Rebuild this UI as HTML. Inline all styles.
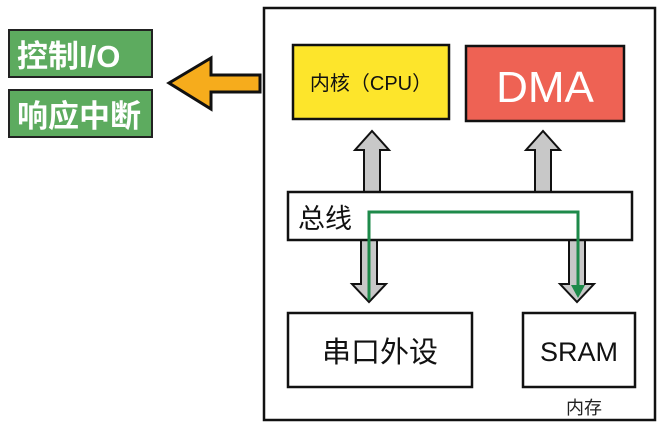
<!DOCTYPE html>
<html><head><meta charset="utf-8"><style>
body{margin:0;background:#fff;}
svg text{font-family:"Liberation Sans","Noto Sans CJK SC",sans-serif;}
</style></head><body>
<svg width="671" height="434" viewBox="0 0 671 434" xmlns="http://www.w3.org/2000/svg">
<rect x="0" y="0" width="671" height="434" fill="#fff"/>
<rect x="264" y="8" width="391" height="412" fill="#fff" stroke="#111" stroke-width="2.5"/>
<rect x="9" y="30" width="143" height="47" fill="#5dab5f" stroke="#222" stroke-width="2"/>
<text x="17" y="67" font-size="31" font-weight="bold" fill="#fff">控制I/O</text>
<rect x="9" y="90" width="143" height="47" fill="#5dab5f" stroke="#222" stroke-width="2"/>
<text x="17" y="127" font-size="31" font-weight="bold" fill="#fff">响应中断</text>
<polygon points="169,83 211,58 211,75 260,75 260,92 211,92 211,109" fill="#f6ac1c" stroke="#111" stroke-width="3"/>
<rect x="293" y="45" width="156" height="74" fill="#fde52b" stroke="#111" stroke-width="2.5"/>
<text x="371" y="90" font-size="20" text-anchor="middle" fill="#111">内核（CPU）</text>
<rect x="466" y="46" width="158" height="75" fill="#ee6254" stroke="#111" stroke-width="2.5"/>
<text x="545" y="102" font-size="44" text-anchor="middle" fill="#fff">DMA</text>
<polygon points="364,192 364,150 355,150 372,131 389,150 380,150 380,192" fill="#c8c8c8" stroke="#111" stroke-width="2"/>
<polygon points="535,192 535,150 526,150 543,131 560,150 551,150 551,192" fill="#c8c8c8" stroke="#111" stroke-width="2"/>
<polygon points="361,240 361,284 352,284 369,302 386,284 377,284 377,240" fill="#c8c8c8" stroke="#111" stroke-width="2"/>
<polygon points="569,240 569,284 560,284 577,302 594,284 585,284 585,240" fill="#c8c8c8" stroke="#111" stroke-width="2"/>
<rect x="288" y="192" width="344" height="48" fill="#fff" stroke="#111" stroke-width="2.5"/>
<text x="298" y="228" font-size="27" fill="#111">总线</text>
<polyline points="369,300 369,212 578,212 578,288" fill="none" stroke="#1e8a4a" stroke-width="3"/>
<polygon points="571,285 585,285 578,298" fill="#1e8a4a"/>
<rect x="288" y="313" width="184" height="74" fill="#fff" stroke="#111" stroke-width="2.5"/>
<text x="380" y="362" font-size="29" text-anchor="middle" fill="#111">串口外设</text>
<rect x="523" y="313" width="112" height="74" fill="#fff" stroke="#111" stroke-width="2.5"/>
<text x="579" y="361" font-size="27" text-anchor="middle" fill="#111">SRAM</text>
<text x="584" y="414" font-size="18" text-anchor="middle" fill="#222">内存</text>
</svg>
</body></html>
